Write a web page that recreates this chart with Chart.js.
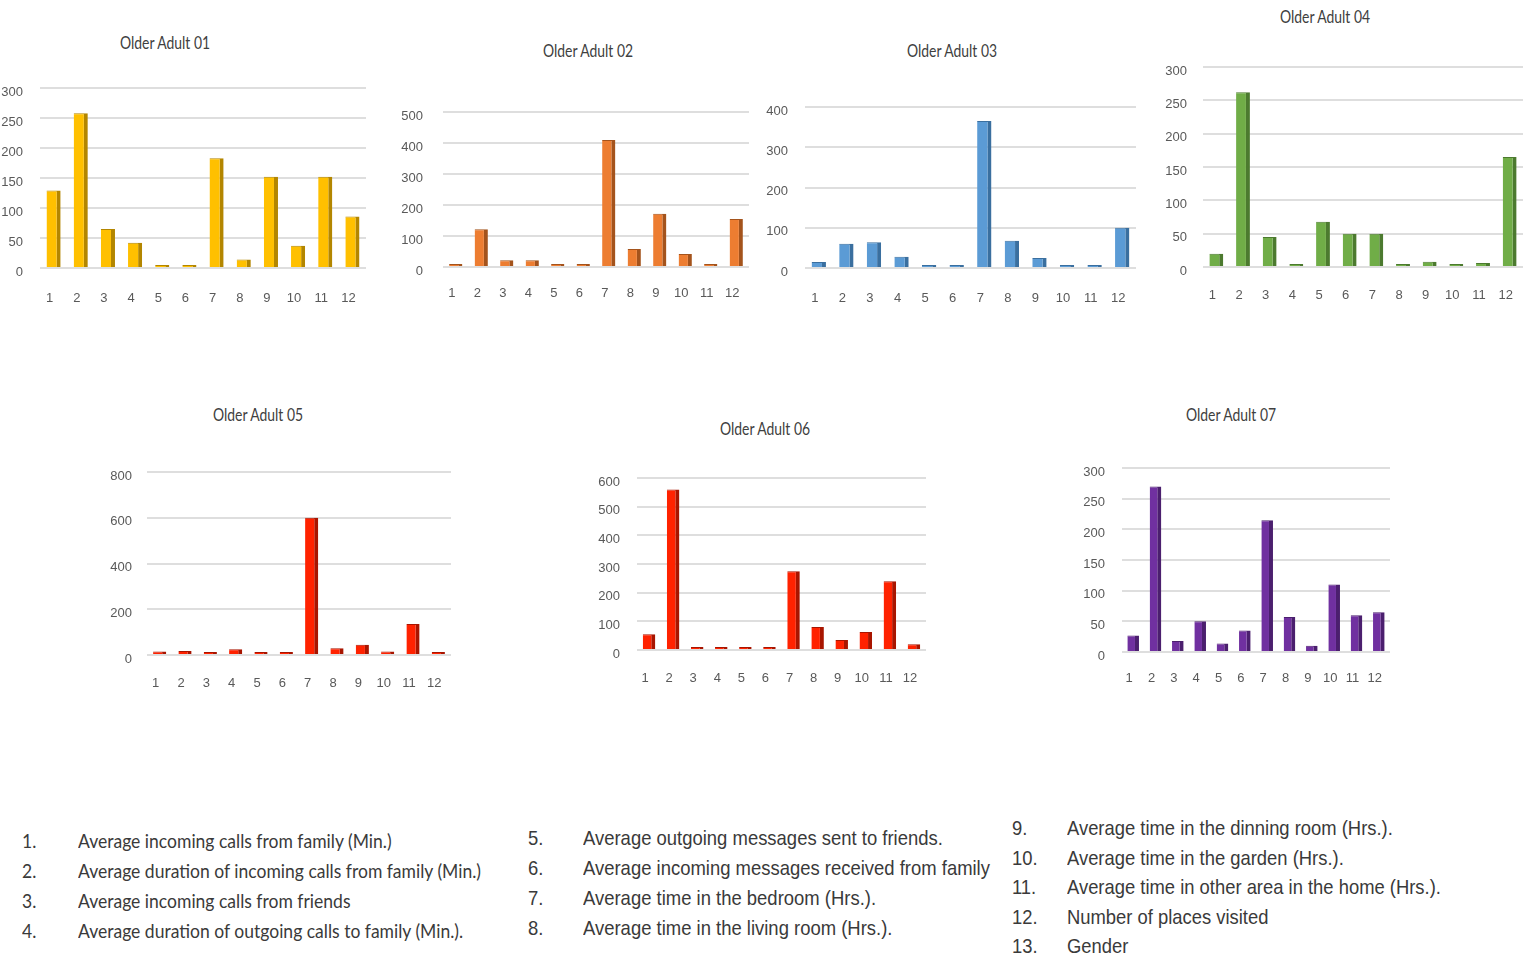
<!DOCTYPE html>
<html><head><meta charset="utf-8">
<script src="https://cdn.jsdelivr.net/npm/chart.js@4.4.1/dist/chart.umd.min.js"></script>
<style>
html,body{margin:0;padding:0;background:#fff;}
body{width:1532px;height:965px;position:relative;overflow:hidden;font-family:'Liberation Sans',sans-serif;}
.box{position:absolute;}
.ttl{position:absolute;font-family:Lato,'Liberation Sans',sans-serif;font-size:17px;color:#404040;white-space:nowrap;}
.leg div{position:absolute;height:30px;line-height:30px;white-space:nowrap;transform-origin:0 50%;}
</style></head><body>
<div id="wrap"></div>
<script>
// datos (12 variables por adulto mayor)
var CATS=['1','2','3','4','5','6','7','8','9','10','11','12'];
var OA01=[129,258,65,42,2,2,183,14,152,37,152,86];
var OA02=[8,122,22,22,5,5,410,58,172,42,5,155];
var OA03=[15,60,64,28,5,5,365,68,25,5,5,100];
var OA04=[20,262,45,3,68,50,50,3,8,3,6,165];
var OA05=[15,18,10,25,8,8,600,30,45,15,135,12];
var OA06=[55,560,8,5,5,5,275,80,35,63,240,20];
var OA07=[27,270,18,50,14,35,215,57,10,110,60,65];
var SERIES=[OA01,OA02,OA03,OA04,OA05,OA06,OA07];
var TITLES=['Older Adult 01','Older Adult 02','Older Adult 03','Older Adult 04','Older Adult 05','Older Adult 06','Older Adult 07'];
var YMAX=[300,500,400,300,800,600,300];
var YSTEP=[50,100,100,50,200,100,50];
var COLORS=['#ffc000','#ed7d31','#5b9bd5','#70ad47','#ff2200','#ff2200','#7030a0'];
var SHADES=['#b38600','#a4531c','#3a6f9f','#4c7a2f','#a81500','#a81500','#4b1f6e'];

var LEG1=['Average incoming calls from family (Min.)','Average duration of incoming calls  from family (Min.)','Average incoming calls from friends','Average duration of outgoing calls to family (Min.).'];
var LEG2=['Average outgoing messages sent to friends.','Average incoming messages received from family','Average time in the bedroom (Hrs.).','Average time in the living room (Hrs.).'];
var LEG3=['Average time in the dinning room (Hrs.).','Average time in the garden (Hrs.).','Average time in other area in the home (Hrs.).','Number of places visited','Gender'];

// layout: area izq, der, y del maximo, base, gap etiquetas y, gap x, titulo x,y
var LAY=[
  [40,366,88,268,17,23,165,42],
  [443,749,112,267,20,19,588,50],
  [805,1136,107,268,17,23,952,50],
  [1203,1523,67,267,16,21,1325,16],
  [147,451,472,655,15,21,258,414],
  [637,926,478,650,17,21,765,428],
  [1122,1390,468,652,17,19,1231,414]
];
var YW=56, XH=42, PT=10, PR=4;
var TICKFONT={family:"'Liberation Sans',sans-serif",size:13};
var wrap=document.getElementById('wrap');

function mk(i){
  var L=LAY[i];
  var left=L[0]-YW, top=L[2]-PT, w=L[1]-left+PR, h=L[3]-top+XH;
  var d=document.createElement('div'); d.className='box';
  d.style.left=left+'px'; d.style.top=top+'px'; d.style.width=w+'px'; d.style.height=h+'px';
  var c=document.createElement('canvas'); c.width=w; c.height=h; c.style.width=w+'px'; c.style.height=h+'px';
  d.appendChild(c); wrap.appendChild(d);
  var t=document.createElement('div'); t.className='ttl'; t.textContent=TITLES[i];
  t.style.left=L[6]+'px'; t.style.top=L[7]+'px'; wrap.appendChild(t);
  var s=90/t.offsetWidth;
  t.style.transform='translate(-50%,-50%) scaleX('+s.toFixed(3)+')';
  new Chart(c,{type:'bar',
    data:{labels:CATS,datasets:[{data:SERIES[i],backgroundColor:COLORS[i],borderColor:SHADES[i],
      borderWidth:{top:1,right:4,left:0,bottom:0},borderSkipped:false,minBarLength:3,
      categoryPercentage:1,barPercentage:0.52}]},
    options:{responsive:false,animation:false,devicePixelRatio:1,
      layout:{padding:{top:PT,right:PR,left:0,bottom:0}},
      plugins:{legend:{display:false},tooltip:{enabled:false}},
      scales:{
        x:{grid:{display:false,drawTicks:true,tickLength:L[5]},border:{display:false},
           ticks:{color:'#595959',font:TICKFONT,padding:0,labelOffset:-4,maxRotation:0,autoSkip:false},
           afterFit:function(s){s.height=XH;}},
        y:{min:0,max:YMAX[i],grid:{color:'#dedede',lineWidth:2,drawTicks:true,tickLength:L[4],tickColor:'rgba(0,0,0,0)'},border:{display:false},
           ticks:{stepSize:YSTEP[i],color:'#595959',font:TICKFONT,padding:0,labelOffset:4},
           afterFit:function(s){s.width=YW;}}
      }}});
}
for(var i=0;i<SERIES.length;i++) mk(i);

// columnas de la leyenda; se comprime el ancho segun una linea de referencia
function legCol(items,start,nx,tx,y0,dy,fs,font,ref,refW){
  var g=document.createElement('div'); g.className='leg'; g.style.fontSize=fs+'px'; g.style.fontFamily=font; g.style.color='#3a3a3a';
  wrap.appendChild(g);
  var els=[];
  items.forEach(function(s,k){
    var n=document.createElement('div'); n.textContent=(start+k)+'.'; n.style.left=nx+'px'; n.style.top=Math.round(y0+k*dy-15)+'px';
    var t=document.createElement('div'); t.textContent=s; t.style.left=tx+'px'; t.style.top=Math.round(y0+k*dy-15)+'px';
    g.appendChild(n); g.appendChild(t); els.push(n,t);
  });
  var sc=refW/els[ref*2+1].offsetWidth;
  els.forEach(function(e){e.style.transform='scaleX('+sc.toFixed(3)+')';});
}
legCol(LEG1,1,22,78,841,30,19,"Lato,'Liberation Sans',sans-serif",1,403);
legCol(LEG2,5,528,583,838,30,21,"'Liberation Sans',sans-serif",1,407);
legCol(LEG3,9,1012,1067,828,29.5,21,"'Liberation Sans',sans-serif",2,374);
</script>
</body></html>
